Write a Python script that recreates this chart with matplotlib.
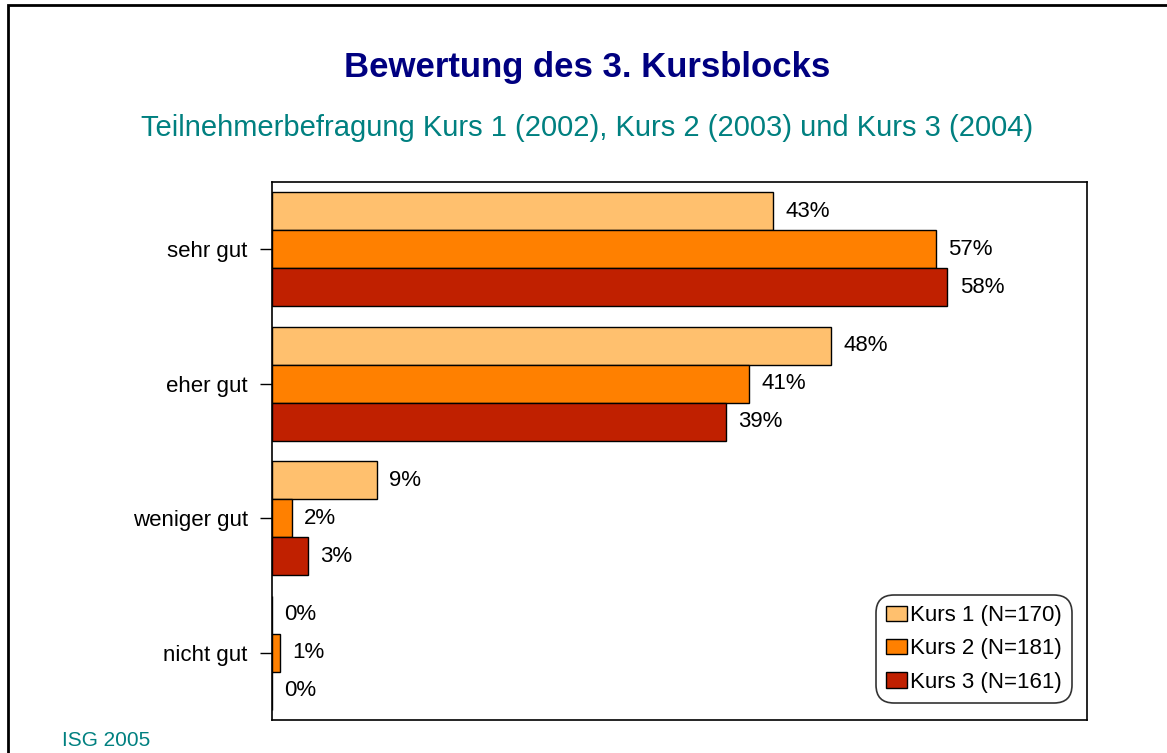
import matplotlib
matplotlib.use("Agg")
import matplotlib.pyplot as plt
import numpy as np
from matplotlib.patches import Rectangle

categories = ["sehr gut", "eher gut", "weniger gut", "nicht gut"]
series_names = ["Kurs 1 (N=170)", "Kurs 2 (N=181)", "Kurs 3 (N=161)"]
kurs1 = [43, 48, 9, 0]
kurs2 = [57, 41, 1.7, 0.7]
kurs3 = [58, 39, 3.1, 0]
colors = ["#FFC06E", "#FF8000", "#C02000"]

plt.rcParams['font.family'] = ['Liberation Sans', 'DejaVu Sans']

fig = plt.figure(figsize=(11.67, 7.53), dpi=100)
ax = fig.add_axes([272 / 1167, 1 - 720 / 753, (1087 - 272) / 1167, (720 - 182) / 753])

y = np.arange(len(categories))
h = 0.283
for i, (vals, name, col) in enumerate(zip([kurs1, kurs2, kurs3], series_names, colors)):
    pos = y + (i - 1) * h
    ax.barh(pos, vals, height=h, color=col, edgecolor="black", linewidth=1, label=name)
    for p, v in zip(pos, vals):
        ax.annotate(f"{v:.0f}%", (v, p), xytext=(9, 0), textcoords="offset points",
                    va="center", ha="left", fontsize=16)

ax.set_xlim(0, 70)
ax.set_ylim(3.5, -0.5)
ax.set_yticks(y)
ax.set_yticklabels(categories, fontsize=16)
ax.set_xticks([])
ax.tick_params(axis="y", length=8.5, width=1, pad=9)
for s in ax.spines.values():
    s.set_linewidth(1.2)

leg = ax.legend(loc="lower right", fontsize=16, frameon=True, fancybox=True,
                handlelength=0.95, handleheight=0.7, handletextpad=0.15,
                borderpad=0.25, labelspacing=0.55, borderaxespad=0.5,
                bbox_to_anchor=(0.99, 0.02))
leg.get_frame().set_edgecolor("black")
leg.get_frame().set_linewidth(1.2)
leg.get_frame().set_boxstyle("round,pad=0.2,rounding_size=0.8")

fig.text(587 / 1167, 1 - 68 / 753, "Bewertung des 3. Kursblocks", ha="center", va="center",
         fontsize=25, fontweight="bold", color="#000080")
fig.text(587 / 1167, 1 - 128 / 753, "Teilnehmerbefragung Kurs 1 (2002), Kurs 2 (2003) und Kurs 3 (2004)",
         ha="center", va="center", fontsize=21, color="#008080")
fig.text(62 / 1167, 1 - 740 / 753, "ISG 2005", ha="left", va="center", fontsize=15, color="#008080")

fig.patches.append(Rectangle((8 / 1167, -0.1), 1.2, 1 - 5 / 753 + 0.1, transform=fig.transFigure,
                             fill=False, edgecolor="black", linewidth=2))

fig.savefig("out.png", dpi=100)
